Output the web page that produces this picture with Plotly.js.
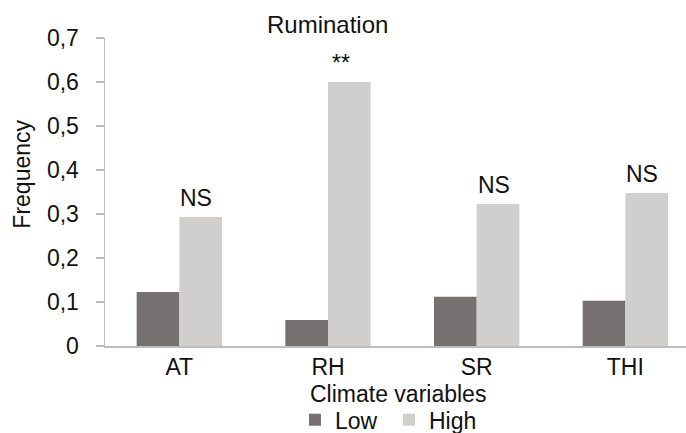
<!DOCTYPE html>
<html>
<head>
<meta charset="utf-8">
<script src="https://cdn.plot.ly/plotly-3.0.1.min.js"></script>
<style>html,body{margin:0;padding:0;background:#fff;}#chart{width:686px;height:433px;}</style>
</head>
<body>
<div id="chart"></div>
<script>
const categories = ['AT', 'RH', 'SR', 'THI'];
const lowValues = [0.123, 0.059, 0.112, 0.103];
const highValues = [0.293, 0.600, 0.323, 0.348];
const significance = ['NS', '**', 'NS', 'NS'];
const yTickValues = [0, 0.1, 0.2, 0.3, 0.4, 0.5, 0.6, 0.7];
const yTickLabels = ['0', '0,1', '0,2', '0,3', '0,4', '0,5', '0,6', '0,7'];

const FONT = 'Liberation Sans, Arial, sans-serif';
const TXT = '#111111';

const traces = [
  {type: 'bar', name: 'Low', x: categories, y: lowValues,
   marker: {color: '#767170', line: {width: 0}}, hoverinfo: 'skip'},
  {type: 'bar', name: 'High', x: categories, y: highValues,
   marker: {color: '#d0cfce', line: {width: 0}}, hoverinfo: 'skip'}
];

const annotations = significance.map((s, i) => ({
  x: categories[i], y: highValues[i], xref: 'x', yref: 'y',
  text: s, showarrow: false, yanchor: 'bottom', xanchor: 'center',
  xshift: s === '**' ? 13 : 17, yshift: 4,
  font: {family: FONT, size: 23, color: TXT}
}));
annotations.push({
  xref: 'paper', yref: 'paper', x: 0.383, y: 1.045, xanchor: 'center', yanchor: 'middle',
  text: 'Rumination', showarrow: false,
  font: {family: FONT, size: 24, color: TXT}
});
annotations.push({
  xref: 'paper', yref: 'paper', x: -0.142, y: 0.558, xanchor: 'center', yanchor: 'middle',
  textangle: -90, text: 'Frequency', showarrow: false,
  font: {family: FONT, size: 23, color: TXT}
});
annotations.push({
  xref: 'paper', yref: 'paper', x: 0.505, y: -0.157, xanchor: 'center', yanchor: 'middle',
  text: 'Climate variables', showarrow: false,
  font: {family: FONT, size: 23, color: TXT}
});

const layout = {
  width: 686, height: 433,
  margin: {l: 105, r: 0, t: 38, b: 87, autoexpand: false},
  paper_bgcolor: '#ffffff', plot_bgcolor: '#ffffff',
  font: {family: FONT, size: 23, color: TXT},
  barmode: 'group', bargap: 0.426, bargroupgap: 0,
  showlegend: true,
  legend: {orientation: 'h', x: 0.43, xanchor: 'left', xref: 'container',
           y: 0.08, yanchor: 'top', yref: 'container',
           font: {family: FONT, size: 23, color: TXT}, traceorder: 'normal',
           itemwidth: 30, entrywidth: 49, entrywidthmode: 'pixels',
           bgcolor: 'rgba(0,0,0,0)'},
  xaxis: {
    type: 'category', range: [-0.5, 3.408], fixedrange: true, automargin: false,
    showline: true, linecolor: '#bdbdbd', linewidth: 1.5,
    ticks: '', showgrid: false, zeroline: false,
    tickfont: {family: FONT, size: 23, color: TXT}
  },
  yaxis: {
    range: [0, 0.7], fixedrange: true, automargin: false,
    tickvals: yTickValues, ticktext: yTickLabels,
    showline: true, linecolor: '#bdbdbd', linewidth: 1.5,
    ticks: 'outside', ticklen: 8, tickwidth: 1.5, tickcolor: '#bdbdbd',
    showgrid: false, zeroline: false, ticklabelstandoff: 12,
    tickfont: {family: FONT, size: 23, color: TXT}
  },
  annotations: annotations
};

Plotly.newPlot('chart', traces, layout, {displayModeBar: false, staticPlot: true});
</script>
</body>
</html>
